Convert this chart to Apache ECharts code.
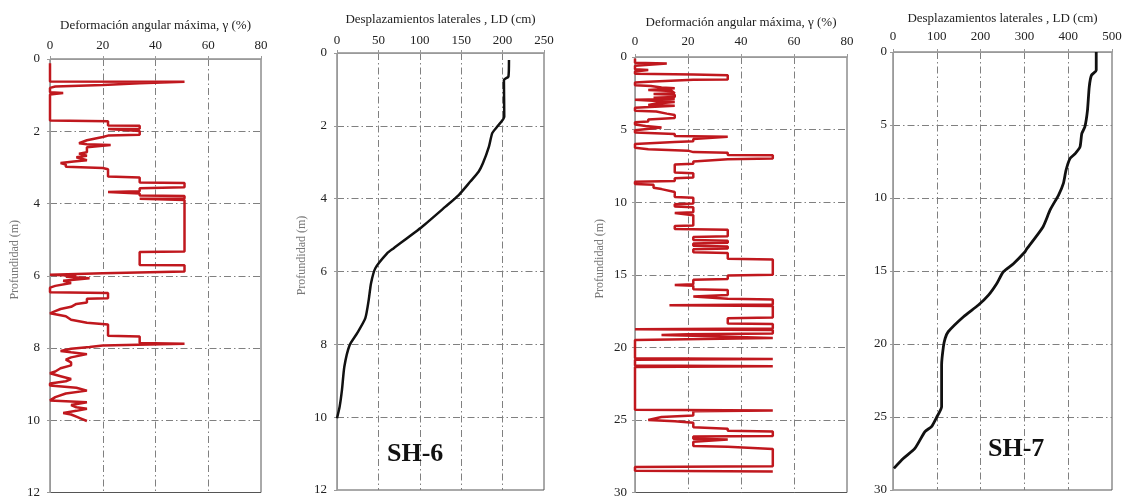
<!DOCTYPE html>
<html>
<head>
<meta charset="utf-8">
<script src="https://cdn.jsdelivr.net/npm/echarts@6/dist/echarts.min.js"></script>
<style>
html,body{margin:0;padding:0;background:#fff;}
#chart{width:1128px;height:499px;}
</style>
</head>
<body>
<div id="chart"></div>
<script>
// ---- SH-6: deformación angular máxima (gamma %) vs profundidad (m)
var sh6GammaDepth = [0.12,0.62,0.63,0.66,0.67,0.70,0.72,0.76,0.80,0.92,0.94,0.97,0.98,1.70,1.72,1.84,1.85,1.93,1.94,1.98,1.99,2.10,2.12,2.14,2.16,2.25,2.30,2.33,2.36,2.38,2.42,2.44,2.50,2.58,2.62,2.68,2.72,2.76,2.80,2.84,2.88,2.92,2.98,3.02,3.05,3.25,3.28,3.42,3.43,3.55,3.58,3.66,3.68,3.71,3.72,3.78,3.79,3.86,3.87,3.90,5.33,5.34,5.70,5.71,5.88,5.93,5.97,6.00,6.03,6.07,6.12,6.14,6.20,6.28,6.33,6.46,6.48,6.62,6.64,6.74,6.78,6.86,6.92,6.98,7.04,7.08,7.12,7.22,7.30,7.35,7.66,7.68,7.86,7.88,7.90,7.93,7.97,8.02,8.08,8.12,8.17,8.20,8.26,8.32,8.40,8.48,8.56,8.65,8.70,8.78,8.86,8.92,8.98,9.04,9.10,9.18,9.22,9.26,9.36,9.45,9.47,9.50,9.55,9.58,9.64,9.68,9.74,9.80,9.84,9.90,9.96,10.02];
var sh6Gamma = [0,0,51,51,34,34,20,2,0,0,5,5,0,0,22,22,34,34,22,22,34,34,22,22,20,14,14,11,14,23,23,14,14,14,11,14,10,12,14,9,4,6,6,20,22,22,34,34,51,51,34,34,22,22,34,34,51,51,34,51,51,34,34,51,51,20,0,10,6,15,15,5,8,2,0,0,22,22,14,14,10,8,4,2,0,0,6,8,14,22,22,34,34,51,51,20,15,8,4,8,14,14,8,6,8,8,4,2,0,4,8,6,0,0,10,14,14,6,2,0,0,14,14,8,10,14,10,5,8,10,12,14];

// ---- SH-6: desplazamientos laterales (cm)
var sh6LdDepth = [0.19,0.65,0.74,1.75,2.02,2.20,2.57,3.03,3.26,3.53,3.90,4.22,4.77,5.36,5.50,5.91,6.32,6.78,7.28,7.70,8.02,8.61,9.25,9.71,10.03];
var sh6Ld = [207.7,207,201.6,202,193.6,187.5,183.5,176.2,171,161,147,131,102.8,68.5,60.5,46.3,41.1,38.3,34.2,24.2,15.3,8.9,6,3.2,0];

// ---- SH-7: deformación angular máxima (gamma %)
var sh7GammaDepth = [0.1,0.4,0.45,0.55,0.6,0.85,0.9,0.95,1.0,1.15,1.2,1.25,1.26,1.55,1.56,1.6,1.7,1.75,1.95,2.0,2.1,2.15,2.25,2.28,2.35,2.5,2.55,2.6,2.75,2.8,2.9,2.95,3.05,3.1,3.2,3.3,3.35,3.45,3.5,3.7,3.75,3.9,4.0,4.2,4.3,4.45,4.5,4.65,4.75,4.85,4.95,5.05,5.2,5.3,5.45,5.5,5.6,5.65,5.8,5.85,5.95,6.0,6.25,6.35,6.45,6.55,6.6,6.75,6.76,7.0,7.05,7.15,7.2,7.35,7.4,7.95,8.0,8.3,8.35,8.55,8.6,8.75,8.8,9.0,9.1,9.3,9.65,9.7,10.1,10.15,10.3,10.35,10.7,10.75,10.85,10.9,11.6,11.65,11.85,11.9,12.35,12.4,12.6,12.65,12.8,12.85,13.0,13.05,13.2,13.25,13.45,13.5,13.9,13.95,15.0,15.05,15.3,15.35,15.65,15.7,15.75,16.0,16.05,16.4,16.5,16.65,16.7,17.05,17.1,17.15,17.95,18.0,18.35,18.4,18.7,18.75,18.8,19.05,19.1,19.15,19.2,19.35,19.45,19.5,20.75,20.8,20.85,21.25,21.3,21.35,24.3,24.35,24.4,24.7,24.8,25.0,25.1,25.2,25.5,25.6,25.75,25.8,26.1,26.15,26.3,26.35,26.45,26.5,26.8,26.85,26.95,27.0,28.2,28.25,28.5,28.55];
var sh7Gamma = [0,0,12,12,0,0,5,5,0,0,22,22,35,35,22,22,5,0,0,6,10,15,15,5,14,15,7,15,15,7,15,0,0,15,8,5,15,15,0,0,8,12,15,15,5,5,0,0,4,10,10,0,0,15,15,35,35,22,22,15,15,0,0,5,20,22,35,35,52,52,35,35,22,22,15,15,22,22,15,15,0,0,7,7,10,15,15,22,22,15,15,22,22,15,15,22,22,15,15,35,35,22,22,35,35,22,22,35,35,22,22,35,35,52,52,35,35,22,22,15,22,22,35,35,22,35,52,52,13,52,52,35,35,52,52,0,52,52,20,10,22,52,52,0,0,52,0,0,52,0,0,52,22,22,10,5,15,22,22,35,35,52,52,22,22,35,35,22,22,35,35,52,52,0,0,52];

// ---- SH-7: desplazamientos laterales (cm)
var sh7LdDepth = [0,1.25,1.6,2.4,4.0,5.13,5.59,6.5,6.96,7.3,8.1,9.0,9.8,10.8,12.0,13.5,13.7,14.5,15.05,15.85,16.65,17.33,18.13,19.16,19.62,20.2,21.44,24.3,25.0,25.66,26.0,27.15,27.83,28.52];
var sh7Ld = [464,464,453,448,444,438,431,427,416,404,395,389,378,359,342,305,301,275,252,237,218,195,161,126,119,115,111,111,100,88,73,50,24,2];

var gammaTicks = {min:0, max:80, interval:20};
var ld6Ticks = {min:0, max:250, interval:50};
var ld7Ticks = {min:0, max:500, interval:100};
var depth6Ticks = {min:0, max:12, interval:2};
var depth7Ticks = {min:0, max:30, interval:5};

var xName1 = 'Deformación angular máxima, γ (%)';
var xName2 = 'Desplazamientos laterales , LD (cm)';
var yName = 'Profundidad (m)';
var labels = ['SH-6', 'SH-7'];

function pairs(xs, ys){ return xs.map(function(x,i){ return [x, ys[i]]; }); }

var FONT = '"Liberation Serif", "DejaVu Serif", serif';
var gridLine = {show:true, showMinLine:false, showMaxLine:false, lineStyle:{color:'#808080', width:1, type:[7,3,1.5,3]}};

function xAx(idx, t, name, margin, gap){
  return {
    type:'value', gridIndex:idx, position:'top', min:t.min, max:t.max, interval:t.interval,
    name:name, nameLocation:'middle', nameGap:gap,
    nameTextStyle:{fontFamily:FONT, fontSize:13, color:'#222'},
    axisLine:{show:true, onZero:false, lineStyle:{color:'#9a9a9a', width:1}},
    axisTick:{show:true, length:3, lineStyle:{color:'#9a9a9a'}},
    axisLabel:{fontFamily:FONT, fontSize:13, color:'#222', margin:margin},
    splitLine:gridLine
  };
}
function yAx(idx, t, showName, margin){
  return {
    type:'value', gridIndex:idx, inverse:true, min:t.min, max:t.max, interval:t.interval,
    name: showName ? yName : '', nameLocation:'middle', nameGap:29,
    nameTextStyle:{fontFamily:FONT, fontSize:12, color:'#777', padding:[0,0,0,32]},
    axisLine:{show:true, onZero:false, lineStyle:{color:'#9a9a9a', width:1}},
    axisTick:{show:true, length:3, lineStyle:{color:'#9a9a9a'}},
    axisLabel:{fontFamily:FONT, fontSize:13, color:'#222', margin:margin},
    splitLine:gridLine
  };
}

var border = {show:true, borderColor:'#555', borderWidth:1, backgroundColor:'transparent'};

var option = {
  animation:false,
  backgroundColor:'#fff',
  grid:[
    Object.assign({left:50, top:59, width:211, height:435}, border),
    Object.assign({left:337, top:53, width:207, height:437}, border),
    Object.assign({left:635, top:57, width:212, height:438}, border),
    Object.assign({left:893, top:52, width:219, height:438}, border)
  ],
  xAxis:[
    xAx(0, gammaTicks, xName1, 7, 27),
    xAx(1, ld6Ticks, xName2, 6, 27),
    xAx(2, gammaTicks, xName1, 9, 28),
    xAx(3, ld7Ticks, xName2, 9, 27)
  ],
  yAxis:[
    yAx(0, depth6Ticks, true, 10),
    yAx(1, depth6Ticks, true, 10),
    yAx(2, depth7Ticks, true, 8),
    yAx(3, depth7Ticks, false, 6)
  ],
  title:[
    {text:labels[0], left:382, top:436, textStyle:{fontFamily:FONT, fontSize:26, fontWeight:'bold', color:'#111'}},
    {text:labels[1], left:983, top:431, textStyle:{fontFamily:FONT, fontSize:26, fontWeight:'bold', color:'#111'}}
  ],
  series:[
    {type:'line', xAxisIndex:0, yAxisIndex:0, data:pairs(sh6Gamma, sh6GammaDepth), showSymbol:false, lineStyle:{color:'#c0181e', width:2.5}},
    {type:'line', xAxisIndex:1, yAxisIndex:1, data:pairs(sh6Ld, sh6LdDepth), showSymbol:false, smooth:0.2, lineStyle:{color:'#111', width:2.5}},
    {type:'line', xAxisIndex:2, yAxisIndex:2, data:pairs(sh7Gamma, sh7GammaDepth), showSymbol:false, lineStyle:{color:'#c0181e', width:2.5}},
    {type:'line', xAxisIndex:3, yAxisIndex:3, data:pairs(sh7Ld, sh7LdDepth), showSymbol:false, smooth:0.2, lineStyle:{color:'#111', width:2.8}}
  ]
};
var chart = echarts.init(document.getElementById('chart'), null, {renderer:'canvas'});
chart.setOption(option);
</script>
</body>
</html>
